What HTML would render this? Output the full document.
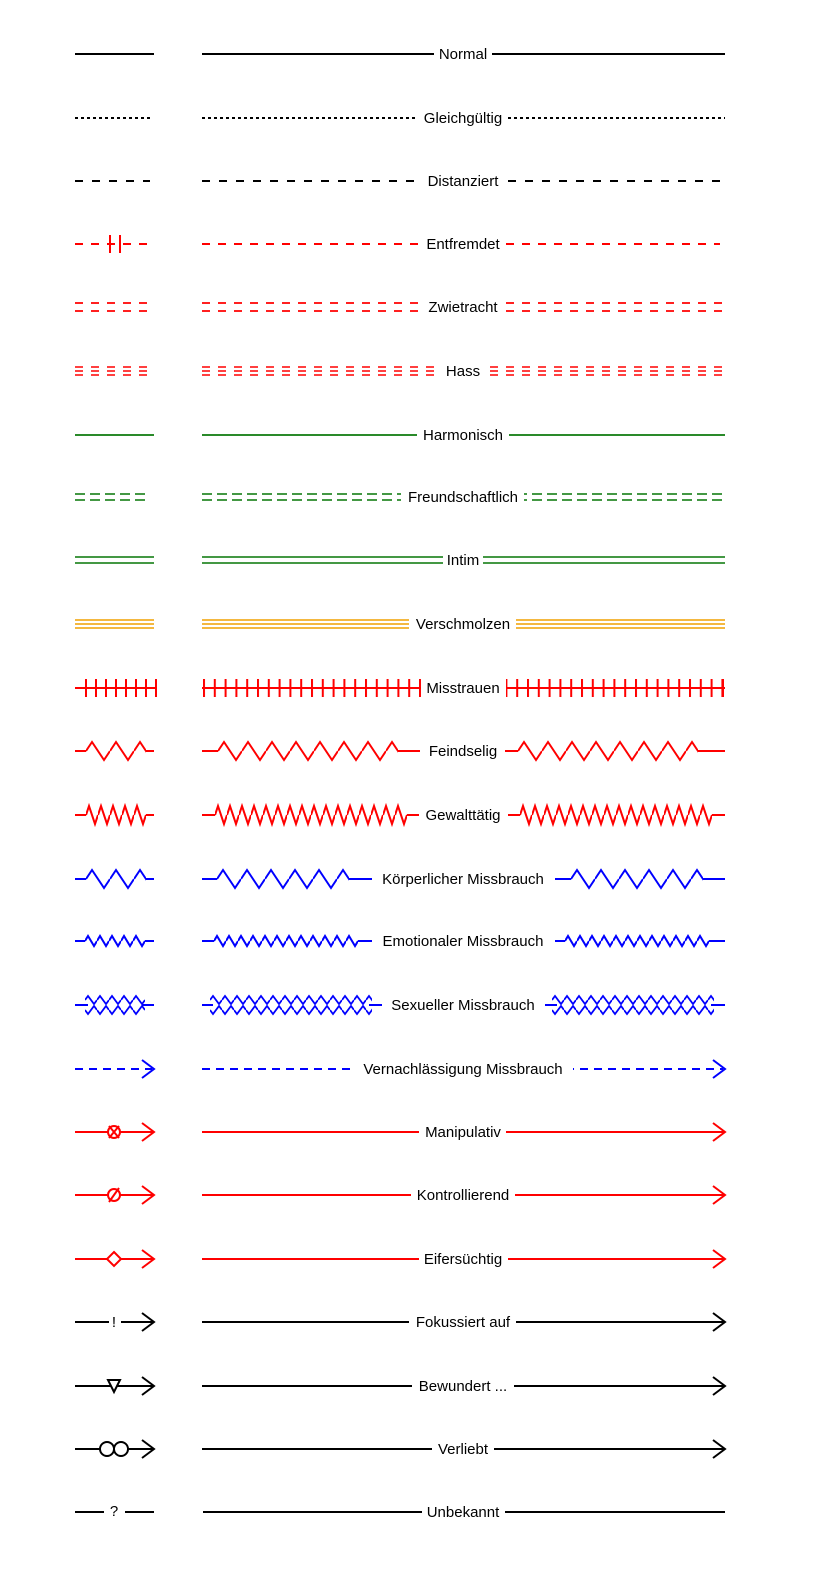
<!DOCTYPE html>
<html><head><meta charset="utf-8"><style>html,body{margin:0;padding:0;background:#fff}svg{display:block}text{font-family:"Liberation Sans",Arial,sans-serif;font-size:15px}</style></head>
<body>
<svg width="822" height="1583" viewBox="0 0 822 1583" xmlns="http://www.w3.org/2000/svg">
<defs>
<pattern id="zR24" patternUnits="userSpaceOnUse" x="0" y="-12" width="24" height="24"><path d="M0,12 L6,3 L18,21 L24,12" fill="none" stroke="#f00" stroke-width="2"/></pattern>
<pattern id="zR12" patternUnits="userSpaceOnUse" x="0" y="-12" width="12" height="24"><path d="M0,12 L3,3 L9,21 L12,12" fill="none" stroke="#f00" stroke-width="2"/></pattern>
<pattern id="zB24" patternUnits="userSpaceOnUse" x="0" y="-12" width="24" height="24"><path d="M0,12 L6,3 L18,21 L24,12" fill="none" stroke="#00f" stroke-width="2"/></pattern>
<pattern id="zB12" patternUnits="userSpaceOnUse" x="0" y="-12" width="12" height="24"><path d="M0,12 L3,7 L9,17 L12,12" fill="none" stroke="#00f" stroke-width="2"/></pattern>
<pattern id="sB" patternUnits="userSpaceOnUse" x="0" y="-12" width="12" height="24"><path d="M0,7 L3,3 L9,11 L12,7 M0,17 L3,21 L9,13 L12,17" fill="none" stroke="#00f" stroke-width="1.8"/></pattern>
<pattern id="tk" patternUnits="userSpaceOnUse" x="0" y="-10" width="10" height="20"><rect x="0" y="1" width="2" height="18" fill="#f00"/></pattern>
<pattern id="tk2" patternUnits="userSpaceOnUse" x="0" y="-10" width="10.8" height="20"><rect x="0" y="1" width="2" height="18" fill="#f00"/></pattern>
</defs>
<g fill="none" stroke-width="2">
<g transform="translate(0,54)" stroke="#000"><line x1="75" x2="154"/><line x1="202" x2="725"/></g>
<g transform="translate(0,118)" stroke="#000" stroke-dasharray="3,3"><line x1="75" x2="152"/><line x1="202" x2="725"/></g>
<g transform="translate(0,181)" stroke="#000" stroke-dasharray="8,9"><line x1="75" x2="150"/><line x1="202" x2="725"/></g>
<g transform="translate(0,244)" stroke="#f00"><line x1="75" x2="154" stroke-dasharray="8,8"/><line x1="202" x2="720" stroke-dasharray="8,8"/><line x1="110" x2="110" y1="-9" y2="9"/><line x1="120" x2="120" y1="-9" y2="9"/></g>
<g transform="translate(0,307)" stroke="#f00" stroke-width="1.8" stroke-dasharray="8,8"><line x1="75" x2="150" y1="-4" y2="-4"/><line x1="75" x2="150" y1="4" y2="4"/><line x1="202" x2="725" y1="-4" y2="-4"/><line x1="202" x2="725" y1="4" y2="4"/></g>
<g transform="translate(0,371)" stroke="#f00" stroke-width="1.6" stroke-dasharray="8,8"><line x1="75" x2="150" y1="-4" y2="-4"/><line x1="75" x2="150"/><line x1="75" x2="150" y1="4" y2="4"/><line x1="202" x2="725" y1="-4" y2="-4"/><line x1="202" x2="725"/><line x1="202" x2="725" y1="4" y2="4"/></g>
<g transform="translate(0,435)" stroke="#2a8a2a"><line x1="75" x2="154"/><line x1="202" x2="725"/></g>
<g transform="translate(0,497)" stroke="#2a8a2a" stroke-width="1.8" stroke-dasharray="10,5"><line x1="75" x2="150" y1="-3" y2="-3"/><line x1="75" x2="150" y1="3" y2="3"/><line x1="202" x2="725" y1="-3" y2="-3"/><line x1="202" x2="725" y1="3" y2="3"/></g>
<g transform="translate(0,560)" stroke="#2a8a2a" stroke-width="1.8"><line x1="75" x2="154" y1="-3" y2="-3"/><line x1="75" x2="154" y1="3" y2="3"/><line x1="202" x2="725" y1="-3" y2="-3"/><line x1="202" x2="725" y1="3" y2="3"/></g>
<g transform="translate(0,624)" stroke="#f0a000" stroke-width="1.6"><line x1="75" x2="154" y1="-4" y2="-4"/><line x1="75" x2="154"/><line x1="75" x2="154" y1="4" y2="4"/><line x1="202" x2="725" y1="-4" y2="-4"/><line x1="202" x2="725"/><line x1="202" x2="725" y1="4" y2="4"/></g>
<g transform="translate(0,688)" stroke="#f00"><line x1="75" x2="155"/><line x1="202" x2="725"/>
<g transform="translate(85,0)"><rect x="0" y="-10" width="72" height="20" fill="url(#tk)" stroke="none"/></g>
<g transform="translate(203,0)"><rect x="0" y="-10" width="520" height="20" fill="url(#tk2)" stroke="none"/></g>
<rect x="722" y="-9" width="2" height="18" fill="#f00" stroke="none"/></g>
<g transform="translate(0,751)" stroke="#f00"><line x1="75" x2="86"/><line x1="146" x2="154"/><line x1="202" x2="218"/><line x1="398" x2="420"/><line x1="505" x2="518"/><line x1="698" x2="725"/>
<g transform="translate(86,0)"><rect y="-12" width="60" height="24" fill="url(#zR24)" stroke="none"/></g>
<g transform="translate(218,0)"><rect y="-12" width="180" height="24" fill="url(#zR24)" stroke="none"/></g>
<g transform="translate(518,0)"><rect y="-12" width="180" height="24" fill="url(#zR24)" stroke="none"/></g></g>
<g transform="translate(0,815)" stroke="#f00"><line x1="75" x2="86"/><line x1="146" x2="154"/><line x1="202" x2="215"/><line x1="407" x2="420"/><line x1="508" x2="520"/><line x1="712" x2="725"/>
<g transform="translate(86,0)"><rect y="-12" width="60" height="24" fill="url(#zR12)" stroke="none"/></g>
<g transform="translate(215,0)"><rect y="-12" width="192" height="24" fill="url(#zR12)" stroke="none"/></g>
<g transform="translate(520,0)"><rect y="-12" width="192" height="24" fill="url(#zR12)" stroke="none"/></g></g>
<g transform="translate(0,879)" stroke="#00f"><line x1="75" x2="86"/><line x1="146" x2="154"/><line x1="202" x2="217"/><line x1="349" x2="372"/><line x1="555" x2="571"/><line x1="703" x2="725"/>
<g transform="translate(86,0)"><rect y="-12" width="60" height="24" fill="url(#zB24)" stroke="none"/></g>
<g transform="translate(217,0)"><rect y="-12" width="132" height="24" fill="url(#zB24)" stroke="none"/></g>
<g transform="translate(571,0)"><rect y="-12" width="132" height="24" fill="url(#zB24)" stroke="none"/></g></g>
<g transform="translate(0,941)" stroke="#00f"><line x1="75" x2="85"/><line x1="145" x2="154"/><line x1="202" x2="214"/><line x1="358" x2="372"/><line x1="555" x2="565"/><line x1="709" x2="725"/>
<g transform="translate(85,0)"><rect y="-12" width="60" height="24" fill="url(#zB12)" stroke="none"/></g>
<g transform="translate(214,0)"><rect y="-12" width="144" height="24" fill="url(#zB12)" stroke="none"/></g>
<g transform="translate(565,0)"><rect y="-12" width="144" height="24" fill="url(#zB12)" stroke="none"/></g></g>
<g transform="translate(0,1005)" stroke="#00f"><line x1="75" x2="88"/><line x1="142" x2="154"/><line x1="202" x2="213"/><line x1="369" x2="382"/><line x1="545" x2="557"/><line x1="711" x2="725"/>
<g transform="translate(85,0)"><rect y="-12" width="60" height="24" fill="url(#sB)" stroke="none"/></g>
<g transform="translate(210,0)"><rect y="-12" width="162" height="24" fill="url(#sB)" stroke="none"/></g>
<g transform="translate(552,0)"><rect y="-12" width="162" height="24" fill="url(#sB)" stroke="none"/></g></g>
<g transform="translate(0,1069)" stroke="#00f"><line x1="75" x2="152" stroke-dasharray="8,6"/><line x1="202" x2="723" stroke-dasharray="8,6"/><polyline points="142,-9 154,0 142,9"/><polyline points="713,-9 725,0 713,9"/></g>
<g transform="translate(0,1132)" stroke="#f00"><line x1="75" x2="154"/><line x1="202" x2="725"/><polyline points="142,-9 154,0 142,9"/><polyline points="713,-9 725,0 713,9"/><circle cx="114" cy="0" r="6" fill="#fff"/><line x1="109" y1="-6" x2="119" y2="6"/><line x1="109" y1="6" x2="119" y2="-6"/></g>
<g transform="translate(0,1195)" stroke="#f00"><line x1="75" x2="154"/><line x1="202" x2="725"/><polyline points="142,-9 154,0 142,9"/><polyline points="713,-9 725,0 713,9"/><circle cx="114" cy="0" r="6" fill="#fff"/><line x1="109" y1="7" x2="119" y2="-7"/></g>
<g transform="translate(0,1259)" stroke="#f00"><line x1="75" x2="154"/><line x1="202" x2="725"/><polyline points="142,-9 154,0 142,9"/><polyline points="713,-9 725,0 713,9"/><polygon points="114,-7 121,0 114,7 107,0" fill="#fff"/></g>
<g transform="translate(0,1322)" stroke="#000"><line x1="75" x2="109"/><line x1="121" x2="154"/><line x1="202" x2="725"/><polyline points="142,-9 154,0 142,9"/><polyline points="713,-9 725,0 713,9"/></g>
<g transform="translate(0,1386)" stroke="#000"><line x1="75" x2="154"/><line x1="202" x2="725"/><polyline points="142,-9 154,0 142,9"/><polyline points="713,-9 725,0 713,9"/><polygon points="108,-6 120,-6 114,6" fill="#fff"/></g>
<g transform="translate(0,1449)" stroke="#000"><line x1="75" x2="154"/><line x1="202" x2="725"/><polyline points="142,-9 154,0 142,9"/><polyline points="713,-9 725,0 713,9"/><circle cx="107" cy="0" r="7" fill="#fff"/><circle cx="121" cy="0" r="7" fill="#fff"/></g>
<g transform="translate(0,1512)" stroke="#000"><line x1="75" x2="104"/><line x1="125" x2="154"/><line x1="203" x2="725"/></g>
</g>
<g fill="#000" font-size="14" text-anchor="middle"><text x="114" y="1327">!</text><text x="114" y="1516">?</text></g>

<g fill="#fff">
<rect x="434" y="43" width="58" height="22"/>
<rect x="418" y="107" width="89" height="22"/>
<rect x="418" y="170" width="86" height="22"/>
<rect x="418" y="233" width="87" height="22"/>
<rect x="422" y="296" width="79" height="22"/>
<rect x="441" y="360" width="42" height="22"/>
<rect x="417" y="424" width="92" height="22"/>
<rect x="401" y="486" width="123" height="22"/>
<rect x="443" y="549" width="40" height="22"/>
<rect x="409" y="613" width="107" height="22"/>
<rect x="421" y="676" width="85" height="24"/>
<rect x="421" y="740" width="84" height="22"/>
<rect x="419" y="804" width="89" height="22"/>
<rect x="372" y="868" width="181" height="22"/>
<rect x="372" y="930" width="181" height="22"/>
<rect x="382" y="994" width="162" height="22"/>
<rect x="351" y="1058" width="222" height="22"/>
<rect x="419" y="1121" width="87" height="22"/>
<rect x="411" y="1184" width="104" height="22"/>
<rect x="419" y="1248" width="89" height="22"/>
<rect x="409" y="1311" width="107" height="22"/>
<rect x="412" y="1375" width="102" height="22"/>
<rect x="432" y="1438" width="62" height="22"/>
<rect x="422" y="1501" width="83" height="22"/>
</g>
<g fill="#000" text-anchor="middle">
<text x="463" y="59">Normal</text>
<text x="463" y="123">Gleichgültig</text>
<text x="463" y="186">Distanziert</text>
<text x="463" y="249">Entfremdet</text>
<text x="463" y="312">Zwietracht</text>
<text x="463" y="376">Hass</text>
<text x="463" y="440">Harmonisch</text>
<text x="463" y="502">Freundschaftlich</text>
<text x="463" y="565">Intim</text>
<text x="463" y="629">Verschmolzen</text>
<text x="463" y="693">Misstrauen</text>
<text x="463" y="756">Feindselig</text>
<text x="463" y="820">Gewalttätig</text>
<text x="463" y="884">Körperlicher Missbrauch</text>
<text x="463" y="946">Emotionaler Missbrauch</text>
<text x="463" y="1010">Sexueller Missbrauch</text>
<text x="463" y="1074">Vernachlässigung Missbrauch</text>
<text x="463" y="1137">Manipulativ</text>
<text x="463" y="1200">Kontrollierend</text>
<text x="463" y="1264">Eifersüchtig</text>
<text x="463" y="1327">Fokussiert auf</text>
<text x="463" y="1391">Bewundert ...</text>
<text x="463" y="1454">Verliebt</text>
<text x="463" y="1517">Unbekannt</text>
</g>
</svg>
</body></html>
